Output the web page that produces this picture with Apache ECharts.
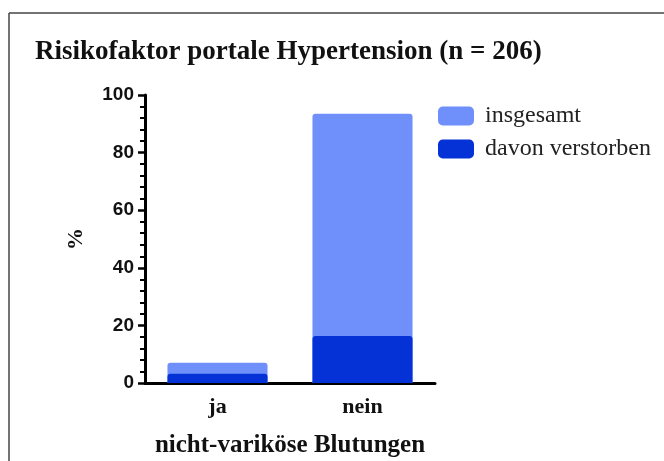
<!DOCTYPE html>
<html>
<head>
<meta charset="utf-8">
<script src="https://cdn.jsdelivr.net/npm/echarts@6/dist/echarts.min.js"></script>
<style>html,body{margin:0;padding:0;background:#fff;}#c{width:664px;height:461px;}</style>
</head>
<body>
<div id="c"></div>
<script>
var categories = ['ja', 'nein'];
var insgesamt = [7.0, 93.5];
var verstorben = [3.2, 16.3];
var seriesNames = ['insgesamt', 'davon verstorben'];
var yTicks = [0, 20, 40, 60, 80, 100];

var chart = echarts.init(document.getElementById('c'), null, {renderer: 'canvas'});
var serif = '"Liberation Serif", "Times New Roman", serif';
var sans = '"Liberation Sans", Arial, sans-serif';
chart.setOption({
  backgroundColor: '#ffffff',
  animation: false,
  title: {
    text: 'Risikofaktor portale Hypertension (n = 206)',
    left: 30, top: 34,
    textStyle: {fontFamily: serif, fontWeight: 'bold', fontSize: 27, color: '#111'}
  },
  legend: {
    orient: 'vertical', left: 438, top: 104, padding: 0,
    itemWidth: 36, itemHeight: 19, itemGap: 9,
    icon: 'roundRect',
    textStyle: {fontFamily: serif, fontSize: 24, color: '#222', padding: [0, 0, 0, 6]},
    data: seriesNames
  },
  grid: {left: 145, right: 229, top: 95, bottom: 78, containLabel: false, outerBoundsMode: 'none'},
  xAxis: {
    type: 'category', data: categories,
    name: 'nicht-variköse Blutungen', nameLocation: 'middle', nameGap: 50,
    nameTextStyle: {fontFamily: serif, fontWeight: 'bold', fontSize: 25, color: '#111'},
    axisLine: {lineStyle: {color: '#000', width: 3}},
    axisTick: {alignWithLabel: true, length: 7, lineStyle: {width: 3, color: '#000'}},
    axisLabel: {fontFamily: serif, fontWeight: 'bold', fontSize: 22, color: '#111', margin: 13}
  },
  yAxis: {
    type: 'value', min: 0, max: 100, interval: 20,
    name: '%', nameLocation: 'middle', nameGap: 58, nameRotate: 90,
    nameTextStyle: {fontFamily: serif, fontWeight: 'bold', fontSize: 22, color: '#111'},
    axisLine: {show: true, lineStyle: {color: '#000', width: 3}},
    axisTick: {show: true, length: 7, lineStyle: {width: 2.5, color: '#000'}},
    minorTick: {show: true, splitNumber: 5, length: 5, lineStyle: {width: 2, color: '#000'}},
    splitLine: {show: false},
    axisLabel: {fontFamily: sans, fontWeight: 'bold', fontSize: 19, color: '#111', margin: 11,
      formatter: function (v) { return yTicks.indexOf(v) >= 0 ? String(v) : ''; }}
  },
  series: [
    {name: seriesNames[0], type: 'bar', data: insgesamt, barWidth: '69%', barGap: '-100%',
     itemStyle: {color: '#6f8ffb', borderRadius: [3, 3, 0, 0]}, z: 2},
    {name: seriesNames[1], type: 'bar', data: verstorben, barWidth: '69%', barGap: '-100%',
     itemStyle: {color: '#0432d6', borderRadius: [3, 3, 0, 0]}, z: 3}
  ],
  graphic: [
    {type: 'line', shape: {x1: 9, y1: 13, x2: 664, y2: 13}, style: {stroke: '#444', lineWidth: 1.5}, silent: true},
    {type: 'line', shape: {x1: 9, y1: 13, x2: 9, y2: 461}, style: {stroke: '#444', lineWidth: 1.5}, silent: true}
  ]
});
</script>
</body>
</html>
